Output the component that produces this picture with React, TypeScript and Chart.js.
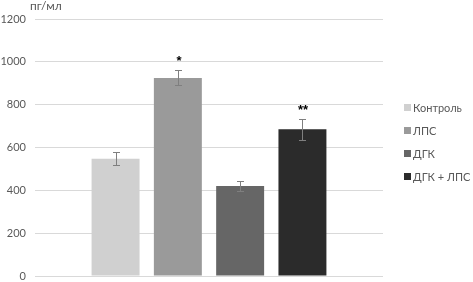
import React, { useEffect, useRef } from "react";
import { Chart, registerables } from "chart.js";

Chart.register(...registerables);

const categories = [""];
const seriesNames = ["Контроль", "ЛПС", "ДГК", "ДГК + ЛПС"];
const seriesValues = [548, 925, 420, 685];
const seriesErrors = [32, 35, 25, 48];
const seriesMarks = ["", "*", "", "**"];
const seriesColors = ["#d0d0d0", "#9a9a9a", "#666666", "#2b2b2b"];
const yMin = 0;
const yMax = 1200;
const yStep = 200;
const yUnit = "пг/мл";

const FONT = "Lato, 'Open Sans', 'Liberation Sans', sans-serif";
const MARK_FONT = "'Liberation Sans', 'DejaVu Sans', sans-serif";

const extrasPlugin = {
  id: "extras",
  afterDatasetsDraw(chart: any) {
    const ctx = chart.ctx;
    const yScale = chart.scales.y;
    const area = chart.chartArea;
    ctx.save();
    seriesValues.forEach((v, i) => {
      const meta = chart.getDatasetMeta(i);
      const bar = meta.data[0];
      if (!bar) return;
      const x = Math.round(bar.x);
      const e = seriesErrors[i];
      const yt = Math.round(yScale.getPixelForValue(v + e));
      const yb = Math.round(yScale.getPixelForValue(v - e));
      ctx.strokeStyle = "#7f7f7f";
      ctx.lineWidth = 1;
      ctx.beginPath();
      ctx.moveTo(x + 0.5, yt);
      ctx.lineTo(x + 0.5, yb);
      ctx.moveTo(x - 3, yt + 0.5);
      ctx.lineTo(x + 4, yt + 0.5);
      ctx.moveTo(x - 3, yb + 0.5);
      ctx.lineTo(x + 4, yb + 0.5);
      ctx.stroke();
      const mark = seriesMarks[i];
      if (mark) {
        ctx.fillStyle = "#000000";
        ctx.font = `bold 13px ${MARK_FONT}`;
        ctx.textAlign = "center";
        ctx.textBaseline = "top";
        ctx.fillText(mark, x + 1, yt - 15);
      }
    });
    // unit label
    ctx.fillStyle = "#595959";
    ctx.font = `12px ${FONT}`;
    ctx.textAlign = "left";
    ctx.textBaseline = "middle";
    ctx.fillText(yUnit, 30, 6);
    // legend
    const lx = area.right + 21;
    const spacing = 23;
    const cy = chart.height / 2;
    const y0 = cy - ((seriesNames.length - 1) * spacing) / 2;
    ctx.font = `11px ${FONT}`;
    seriesNames.forEach((name, i) => {
      const y = Math.round(y0 + i * spacing);
      ctx.fillStyle = seriesColors[i];
      ctx.fillRect(lx, y - 3, 7, 7);
      ctx.fillStyle = "#595959";
      ctx.fillText(name, lx + 9, y + 1);
    });
    ctx.restore();
  },
};

export default function App() {
  const ref = useRef<HTMLCanvasElement>(null);
  useEffect(() => {
    if (!ref.current) return;
    const chart = new Chart(ref.current, {
      type: "bar",
      data: {
        labels: categories,
        datasets: seriesNames.map((name, i) => ({
          label: name,
          data: [seriesValues[i]],
          backgroundColor: seriesColors[i],
          borderWidth: 0,
          categoryPercentage: 0.716,
          barPercentage: 0.77,
        })),
      },
      options: {
        animation: false,
        responsive: false,
        maintainAspectRatio: false,
        layout: { padding: { top: 19, bottom: 6, left: 0, right: 90 } },
        plugins: {
          legend: { display: false },
          tooltip: { enabled: false },
        },
        scales: {
          x: { display: false },
          y: {
            min: yMin,
            max: yMax,
            afterFit: (s: any) => {
              s.width = 35;
              s.paddingTop = 6;
              s.paddingBottom = 6;
            },
            ticks: {
              stepSize: yStep,
              color: "#595959",
              padding: 9,
              font: { family: FONT, size: 11 },
              callback: (v: any) => String(v),
            },
            grid: { color: "#d9d9d9", drawTicks: false },
            border: { display: false },
          },
        },
      },
      plugins: [extrasPlugin],
    });
    return () => chart.destroy();
  }, []);
  return (
    <div style={{ position: "fixed", left: 0, top: 0, width: 473, height: 282, background: "#fff" }}>
      <canvas ref={ref} width={473} height={282} style={{ width: 473, height: 282, display: "block" }} />
    </div>
  );
}
